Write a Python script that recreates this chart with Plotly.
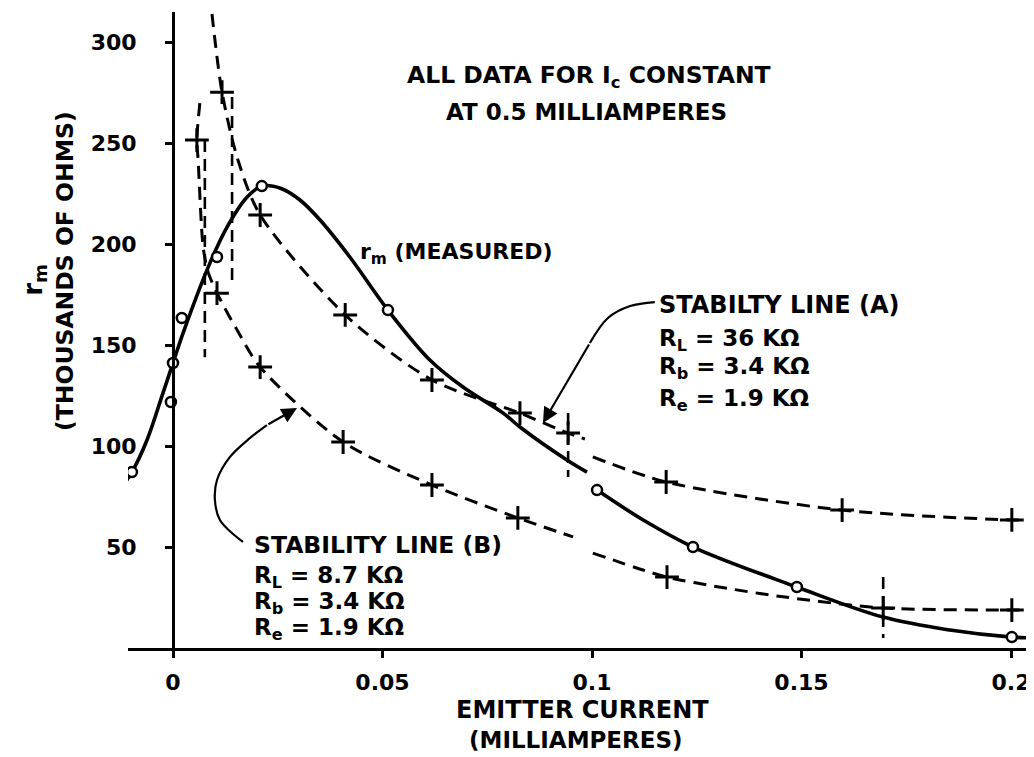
import plotly.graph_objects as go

# ---------------- data ----------------
# r_m (measured) solid curve, split where the original paper was spliced near 0.1 mA
rm_left_x = [-0.0119, -0.0098, -0.0062, -0.0024, 0.0, 0.0024, 0.0084, 0.0129, 0.0177,
             0.0212, 0.0258, 0.0303, 0.0351, 0.0422, 0.0513, 0.0613, 0.0692, 0.0788, 0.0828, 0.094, 0.0988]
rm_left_y = [80.7, 87.1, 103.0, 126.2, 141.1, 155.9, 188.6, 208.4, 223.3,
             228.7, 227.5, 221.8, 211.9, 193.6, 167.3, 142.6, 129.2, 116.3, 109.4, 93.1, 87.1]
rm_right_x = [0.1012, 0.1122, 0.1241, 0.1489, 0.1695, 0.1854, 0.2002, 0.2060]
rm_right_y = [78.2, 63.4, 50.0, 30.2, 15.3, 8.9, 5.4, 5.0]
rm_pts_x = [-0.0098, -0.0005, 0.0, 0.0021, 0.0105, 0.0212, 0.0513, 0.1012, 0.1241, 0.1489, 0.2002]
rm_pts_y = [87.1, 121.8, 141.1, 163.4, 193.6, 228.7, 167.3, 78.2, 50.0, 30.2, 5.4]

# Stability line (A)  R_L = 36 K
a_left_x = [0.0093, 0.0117, 0.0155, 0.0208, 0.0411, 0.0618, 0.0828, 0.0943, 0.0983]
a_left_y = [313.9, 275.2, 241.6, 214.4, 164.9, 132.7, 116.3, 106.4, 103.5]
a_right_x = [0.1002, 0.1177, 0.1597, 0.2002, 0.2060]
a_right_y = [94.6, 82.2, 68.3, 63.4, 63.4]
a_pts_x = [0.0117, 0.0208, 0.0411, 0.0618, 0.0828, 0.0943, 0.1177, 0.1597, 0.2002]
a_pts_y = [275.2, 214.4, 164.9, 132.7, 116.3, 106.4, 82.2, 68.3, 63.4]

# Stability line (B)  R_L = 8.7 K
b_left_x = [0.0064, 0.0057, 0.0060, 0.0072, 0.0084, 0.0105, 0.0153, 0.0208, 0.0406, 0.0618, 0.0823, 0.0955]
b_left_y = [269.8, 251.5, 241.6, 198.5, 186.0, 175.7, 157.4, 139.1, 102.0, 80.7, 64.4, 55.0]
b_right_x = [0.1002, 0.1122, 0.1179, 0.1303, 0.1461, 0.1695, 0.2002, 0.2060]
b_right_y = [47.0, 38.6, 35.1, 30.2, 25.2, 19.8, 18.8, 18.8]
b_pts_x = [0.0057, 0.0105, 0.0208, 0.0406, 0.0618, 0.0823, 0.1179, 0.1695, 0.2002]
b_pts_y = [251.5, 175.7, 139.1, 102.0, 80.7, 64.4, 35.1, 19.8, 18.8]

# vertical dashed marks
vmark_x = [0.0076, 0.0141, 0.0943, 0.1695]
vmark_y0 = [144.0, 180.7, 84.7, 5.0]
vmark_y1 = [251.5, 272.8, 116.3, 35.1]

x_ticks = [0, 0.05, 0.1, 0.15, 0.2]
x_tick_labels = ["0", "0.05", "0.1", "0.15", "0.2"]
y_ticks = [50, 100, 150, 200, 250, 300]
y_tick_labels = ["50", "100", "150", "200", "250", "300"]

# leader curves of the two callouts
lead_a_x = [0.1150, 0.1091, 0.1038, 0.0995]
lead_a_y = [171.3, 169.3, 163.4, 151.0]
lead_b_x = [0.0167, 0.0112, 0.0100, 0.0105, 0.0136, 0.0184, 0.0224]
lead_b_y = [52.5, 63.4, 73.3, 83.2, 94.6, 104.0, 110.4]

# ---------------- figure ----------------
INK = "black"
FONT = dict(family="DejaVu Sans", size=22, color=INK, weight="bold")
DASH = "13px,8px"

fig = go.Figure()

def line_trace(x, y, dash=None, width=3.2, smoothing=0.8):
    return go.Scatter(x=x, y=y, mode="lines", hoverinfo="skip",
                      line=dict(color=INK, width=width, dash=dash, shape="spline", smoothing=smoothing))

# stability lines
fig.add_trace(line_trace(a_left_x, a_left_y, DASH, 3))
fig.add_trace(line_trace(a_right_x, a_right_y, DASH, 3))
fig.add_trace(line_trace(b_left_x, b_left_y, DASH, 3))
fig.add_trace(line_trace(b_right_x, b_right_y, DASH, 3))

# vertical dashed marks
vx, vy = [], []
for x, y0, y1 in zip(vmark_x, vmark_y0, vmark_y1):
    vx += [x, x, None]
    vy += [y1, y0, None]
fig.add_trace(go.Scatter(x=vx, y=vy, mode="lines", hoverinfo="skip",
                         line=dict(color=INK, width=2.6, dash="12px,7px")))

# measured curve
fig.add_trace(line_trace(rm_left_x, rm_left_y, None, 3.6, 1.0))
fig.add_trace(line_trace(rm_right_x, rm_right_y, None, 3.6, 1.0))

# plus markers
fig.add_trace(go.Scatter(x=a_pts_x + b_pts_x, y=a_pts_y + b_pts_y, mode="markers", hoverinfo="skip",
                         marker=dict(symbol="cross-thin", size=17, line=dict(color=INK, width=3))))
# circle markers
fig.add_trace(go.Scatter(x=rm_pts_x, y=rm_pts_y, mode="markers", hoverinfo="skip",
                         marker=dict(symbol="circle", size=10, color="white", line=dict(color=INK, width=2.5))))

# callout leaders
fig.add_trace(go.Scatter(x=lead_a_x, y=lead_a_y, mode="lines", hoverinfo="skip",
                         line=dict(color=INK, width=2.2, shape="spline")))
fig.add_trace(go.Scatter(x=lead_b_x, y=lead_b_y, mode="lines", hoverinfo="skip",
                         line=dict(color=INK, width=2.2, shape="spline")))

ann = []
# arrowheads
ann.append(dict(x=0.0883, y=111.4, ax=lead_a_x[-1], ay=lead_a_y[-1], xref="x", yref="y",
                axref="x", ayref="y", showarrow=True, arrowhead=2, arrowsize=1.4,
                arrowwidth=2.2, arrowcolor=INK, text=""))
ann.append(dict(x=0.0296, y=118.8, ax=lead_b_x[-1], ay=lead_b_y[-1], xref="x", yref="y",
                axref="x", ayref="y", showarrow=True, arrowhead=2, arrowsize=1.4,
                arrowwidth=2.2, arrowcolor=INK, text=""))

def txt(x, y, s, xanchor="left", size=22, **kw):
    f = dict(FONT)
    f["size"] = size
    d = dict(x=x, y=y, xref="x", yref="y", text=s, showarrow=False, xanchor=xanchor,
             yanchor="middle", font=f)
    d.update(kw)
    return d

ann.append(txt(0.0993, 283.2, "ALL DATA FOR I<sub>c</sub> CONSTANT", "center", 23.5))
ann.append(txt(0.0988, 265.3, "AT 0.5 MILLIAMPERES", "center", 23))
ann.append(txt(0.0442, 195.5, "r<sub>m</sub> (MEASURED)", "left", 22))

ann.append(txt(0.1155, 169.8, "STABILTY LINE (A)", "left", 24))
ann.append(txt(0.1155, 152.5, "R<sub>L</sub> = 36 K\u03a9", "left", 23))
ann.append(txt(0.1155, 138.6, "R<sub>b</sub> = 3.4 K\u03a9", "left", 23))
ann.append(txt(0.1155, 122.8, "R<sub>e</sub> = 1.9 K\u03a9", "left", 23))

ann.append(txt(0.0189, 51.0, "STABILITY LINE (B)", "left", 23.5))
ann.append(txt(0.0189, 35.0, "R<sub>L</sub> = 8.7 K\u03a9", "left", 23))
ann.append(txt(0.0189, 22.2, "R<sub>b</sub> = 3.4 K\u03a9", "left", 23))
ann.append(txt(0.0189, 9.4, "R<sub>e</sub> = 1.9 K\u03a9", "left", 23))

# axis titles
ann.append(dict(x=0.502, y=-0.0975, xref="paper", yref="paper", text="EMITTER CURRENT",
                showarrow=False, xanchor="center", yanchor="middle", font=dict(FONT, size=24)))
ann.append(dict(x=0.4945, y=-0.1447, xref="paper", yref="paper", text="(MILLIAMPERES)",
                showarrow=False, xanchor="center", yanchor="middle", font=dict(FONT, size=23)))
ann.append(dict(x=-0.0695, y=0.5928, xref="paper", yref="paper", text="(THOUSANDS OF OHMS)",
                showarrow=False, xanchor="center", yanchor="middle", textangle=-90,
                font=dict(FONT, size=23.5)))
ann.append(dict(x=-0.104, y=0.5786, xref="paper", yref="paper", text="r<sub>m</sub>",
                showarrow=False, xanchor="center", yanchor="middle", textangle=-90,
                font=dict(FONT, size=26)))

# the page body has an 8px default margin, so the margins are offset by 8px
fig.update_layout(
    width=1034, height=757,
    margin=dict(l=120, r=8, t=4, b=117),
    paper_bgcolor="white", plot_bgcolor="white",
    showlegend=False,
    annotations=ann,
)
fig.update_xaxes(range=[-0.01074, 0.20549], showline=True, linecolor=INK, linewidth=3,
                 ticks="outside", ticklen=7, tickwidth=2.5, tickcolor=INK,
                 tickvals=x_ticks, ticktext=x_tick_labels, tickfont=FONT,
                 ticklabelstandoff=6, showgrid=False, zeroline=False, fixedrange=True)
fig.update_yaxes(range=[0, 314.9], anchor="free", position=0.04967, showline=True,
                 linecolor=INK, linewidth=3, ticks="outside", ticklen=7, tickwidth=2.5,
                 tickcolor=INK, tickvals=y_ticks, ticktext=y_tick_labels, tickfont=FONT,
                 ticklabelstandoff=24, showgrid=False, zeroline=False, fixedrange=True)

fig.write_html("out.html")
